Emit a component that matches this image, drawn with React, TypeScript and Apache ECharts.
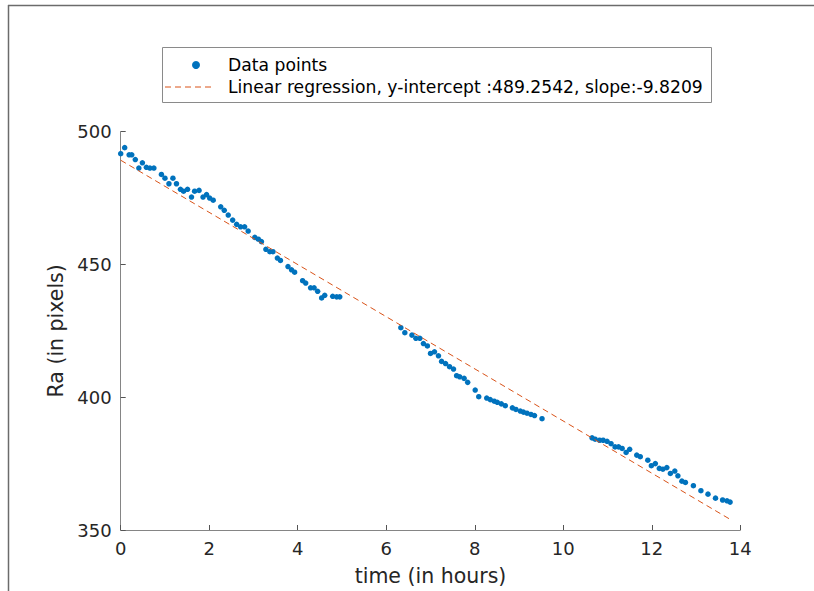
import React, { useEffect, useRef } from "react";
import * as echarts from "echarts";

const timeHours: number[] = [
  0.0, 0.09, 0.19, 0.25, 0.33, 0.41, 0.49, 0.58, 0.66, 0.75, 0.92, 1.0, 1.09, 1.18, 1.26, 1.35, 1.42, 1.51, 1.6, 1.67,
  1.77, 1.86, 1.94, 2.01, 2.09, 2.26, 2.34, 2.43, 2.53, 2.62, 2.71, 2.8, 2.88, 3.03, 3.11, 3.18, 3.28, 3.37, 3.44, 3.54,
  3.61, 3.78, 3.86, 3.93, 4.11, 4.18, 4.29, 4.37, 4.45, 4.54, 4.61, 4.79, 4.88, 4.95,
  6.33, 6.42, 6.58, 6.67, 6.76, 6.84, 6.93, 7.0, 7.09, 7.18, 7.25, 7.34, 7.43, 7.52, 7.59, 7.66, 7.76, 7.84, 8.01, 8.09,
  8.27, 8.35, 8.44, 8.51, 8.6, 8.69, 8.85, 8.93, 9.03, 9.1, 9.18, 9.27, 9.35, 9.52,
  10.65, 10.72, 10.82, 10.9, 10.99, 11.08, 11.17, 11.25, 11.33, 11.42, 11.5, 11.66, 11.74, 11.91, 11.99, 12.08, 12.17,
  12.25, 12.34, 12.42, 12.52, 12.59, 12.68, 12.76, 12.94, 13.11, 13.27, 13.44, 13.6, 13.7, 13.77,
];

const raPixels: number[] = [
  491.7, 494.0, 491.3, 491.3, 489.5, 486.3, 488.3, 486.6, 486.3, 486.3, 483.9, 482.5, 480.4, 482.5, 480.4, 478.3, 477.6,
  478.3, 475.4, 477.6, 477.9, 475.4, 476.3, 475.0, 474.2, 471.7, 470.4, 468.6, 466.7, 465.1, 464.2, 464.2, 462.6, 460.2,
  459.5, 458.6, 455.7, 454.8, 454.8, 452.4, 451.5, 449.2, 448.0, 447.1, 443.9, 443.0, 441.2, 441.2, 439.9, 437.4, 438.4,
  438.0, 437.8, 437.8,
  426.2, 424.3, 423.4, 422.2, 422.2, 420.2, 419.3, 416.5, 417.1, 415.6, 413.5, 412.7, 411.5, 410.6, 408.1, 407.7, 407.1,
  405.6, 402.7, 400.2, 399.7, 399.1, 398.5, 398.1, 397.5, 396.8, 396.0, 395.4, 394.8, 394.4, 394.0, 393.5, 393.1, 391.9,
  384.7, 384.2, 383.8, 383.8, 383.4, 382.5, 381.3, 381.3, 380.7, 379.2, 380.4, 378.2, 377.6, 376.3, 374.2, 375.0, 373.2,
  372.9, 373.5, 371.3, 372.2, 370.4, 368.4, 367.9, 366.7, 364.8, 363.5, 362.0, 361.3, 361.0, 360.5,
];

const regressionX: number[] = [0, 13.77];
const regressionY: number[] = [489.2542, 354.02];

const xTicks = { min: 0, max: 14, interval: 2 };
const yTicks = { min: 350, max: 500, interval: 50 };

const legendLabels: string[] = [
  "Data points",
  "Linear regression, y-intercept :489.2542, slope:-9.8209",
];
const xTitle = "time (in hours)";
const yTitle = "Ra (in pixels)";

const FONT = "'DejaVu Sans', sans-serif";
const BLUE = "#0072BD";
const ORANGE = "#D95319";

export default function App() {
  const ref = useRef<HTMLDivElement>(null);

  useEffect(() => {
    if (!ref.current) return;
    const chart = echarts.init(ref.current, undefined, { renderer: "svg" });
    const scatterData = timeHours.map((t, i) => [t, raPixels[i]]);
    const lineData = regressionX.map((t, i) => [t, regressionY[i]]);

    chart.setOption({
      animation: false,
      backgroundColor: "#ffffff",
      grid: { left: 120.7, top: 131.7, right: 73.7, bottom: 58.3, containLabel: false },
      xAxis: {
        type: "value",
        min: xTicks.min,
        max: xTicks.max,
        interval: xTicks.interval,
        name: xTitle,
        nameLocation: "middle",
        nameGap: 35,
        nameTextStyle: { fontFamily: FONT, fontSize: 20.5, color: "#262626" },
        axisLine: { lineStyle: { color: "#858585", width: 1 } },
        axisTick: { inside: true, length: 5, lineStyle: { color: "#555" } },
        axisLabel: { fontFamily: FONT, fontSize: 18, color: "#262626", margin: 9 },
        splitLine: { show: false },
      },
      yAxis: {
        type: "value",
        min: yTicks.min,
        max: yTicks.max,
        interval: yTicks.interval,
        name: yTitle,
        nameLocation: "middle",
        nameGap: 50,
        nameTextStyle: { fontFamily: FONT, fontSize: 20.5, color: "#262626" },
        axisLine: { show: true, lineStyle: { color: "#858585", width: 1 } },
        axisTick: { show: true, inside: true, length: 5, lineStyle: { color: "#555" } },
        axisLabel: { fontFamily: FONT, fontSize: 18, color: "#262626", margin: 9 },
        splitLine: { show: false },
      },
      series: [
        {
          type: "scatter",
          name: legendLabels[0],
          data: scatterData,
          symbol: "circle",
          symbolSize: 5.5,
          itemStyle: { color: BLUE, opacity: 1 },
        },
        {
          type: "line",
          name: legendLabels[1],
          data: lineData,
          symbol: "none",
          lineStyle: { color: ORANGE, width: 1, type: [6, 4] },
        },
      ],
      graphic: [
        { type: "line", shape: { x1: 8, y1: 5.5, x2: 814, y2: 5.5 }, style: { stroke: "#6b6b6b", lineWidth: 1.5 } },
        { type: "line", shape: { x1: 8.5, y1: 5, x2: 8.5, y2: 591 }, style: { stroke: "#6b6b6b", lineWidth: 1.5 } },
        {
          type: "rect",
          shape: { x: 162.5, y: 47.5, width: 549, height: 55 },
          style: { fill: "#ffffff", stroke: "#8a8a8a", lineWidth: 1 },
          z: 10,
        },
        { type: "circle", shape: { cx: 196, cy: 65, r: 4 }, style: { fill: BLUE }, z: 11 },
        {
          type: "line",
          shape: { x1: 165, y1: 87, x2: 215, y2: 87 },
          style: { stroke: ORANGE, lineWidth: 1, lineDash: [6, 4] },
          z: 11,
        },
        {
          type: "text",
          x: 228,
          y: 65,
          style: { text: legendLabels[0], fontFamily: FONT, fontSize: 17.2, fill: "#000", verticalAlign: "middle" },
          z: 11,
        },
        {
          type: "text",
          x: 228,
          y: 87,
          style: { text: legendLabels[1], fontFamily: FONT, fontSize: 17.2, fill: "#000", verticalAlign: "middle" },
          z: 11,
        },
      ],
    });

    return () => chart.dispose();
  }, []);

  return (
    <div
      ref={ref}
      style={{ position: "absolute", left: 0, top: 0, width: 814, height: 591, background: "#fff" }}
    />
  );
}
